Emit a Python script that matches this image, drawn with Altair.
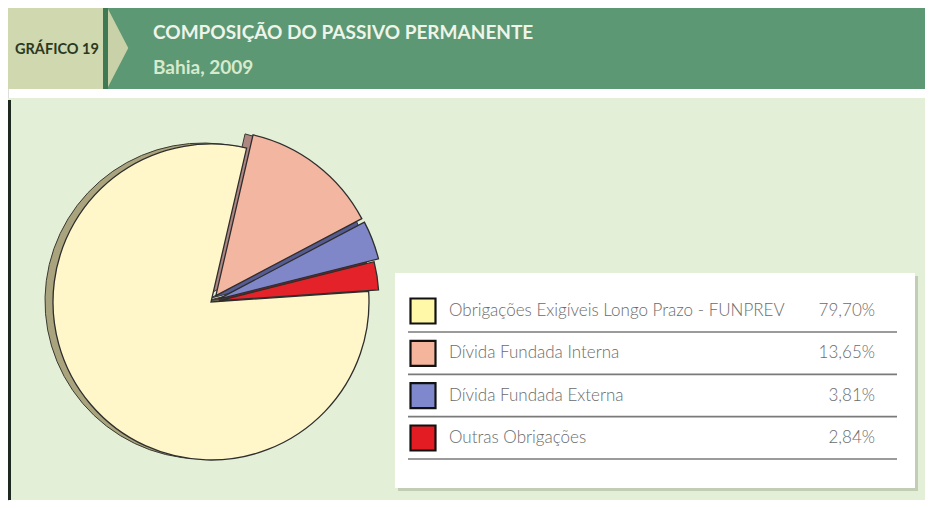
import math
import altair as alt
import pandas as pd

# ---------------- data ----------------
categories = [
    "Obrigações Exigíveis Longo Prazo - FUNPREV",
    "Dívida Fundada Interna",
    "Dívida Fundada Externa",
    "Outras Obrigações",
]
values = [79.70, 13.65, 3.81, 2.84]
value_labels = ["79,70%", "13,65%", "3,81%", "2,84%"]

tag_text = "GRÁFICO 19"
title_text = "COMPOSIÇÃO DO PASSIVO PERMANENTE"
subtitle_text = "Bahia, 2009"

# ---------------- styles ----------------
slice_colors = ["#fff7c9", "#f3b6a1", "#7f87c9", "#e42229"]
shadow_colors = ["#a9a47e", "#ad8581", "#565c92", "#8a1f1f"]
legend_colors = ["#fff8a8", "#f5b59d", "#7f88cc", "#e31b22"]

W, H = 917, 493
CX, CY = 203, 294
RADII = [158, 165, 165, 160]
START_DEG = 86.1
EXPLODE = [0, 8, 8, 8]
SHADOW_DX, SHADOW_DY = -8, -1
FONT = "Lato"

df = pd.DataFrame({"cat": categories, "value": values,
                   "label": value_labels, "idx": list(range(len(values)))})
one = pd.DataFrame({"k": [0]})

theta_scale = alt.Scale(
    domain=[0, 100],
    range=[math.radians(START_DEG), math.radians(START_DEG) + 2 * math.pi],
)

pie_base = (
    alt.Chart(df)
    .transform_window(cum="sum(value)", sort=[alt.SortField("idx")])
    .transform_calculate(start="datum.cum - datum.value")
)

# explode offsets per slice (style, derived from angles)
offsets = []
acc = 0.0
for i, v in enumerate(values):
    mid = math.radians(START_DEG + (acc + v / 2) * 3.6)
    acc += v
    offsets.append((EXPLODE[i] * math.sin(mid), -EXPLODE[i] * math.cos(mid)))

pie_enc = dict(
    theta=alt.Theta("start:Q", scale=theta_scale),
    theta2="cum:Q",
    x=alt.value(CX),
    y=alt.value(CY),
)

shadow_layers = []
slice_layers = []
for i in range(len(values)):
    ox, oy = offsets[i]
    shadow_layers.append(
        pie_base.transform_filter(alt.datum.idx == i)
        .mark_arc(radius=RADII[i], fill=shadow_colors[i], stroke="#3b3a30",
                  strokeWidth=1, xOffset=ox + SHADOW_DX, yOffset=oy + SHADOW_DY)
        .encode(**pie_enc)
    )
    slice_layers.append(
        pie_base.transform_filter(alt.datum.idx == i)
        .mark_arc(radius=RADII[i], fill=slice_colors[i], stroke="#2e2e2e",
                  strokeWidth=1.3, xOffset=ox, yOffset=oy)
        .encode(**pie_enc)
    )

# ---------------- background / header ----------------
def box(x, x2, y, y2, color, **kw):
    return alt.Chart(one).mark_rect(fill=color, **kw).encode(
        x=alt.value(x), x2=alt.value(x2), y=alt.value(y), y2=alt.value(y2))

panel = box(0, W, 90, 492, "#e3efd7")
left_bar = box(0, 3, 92, 492, "#1e2a1f")
olive = box(0, 95, -1, 81, "#cfd8ae")
strip = box(95, 100, -1, 81, "#3f7a55")
green = box(100, W, -1, 81, "#5c9873")

chevron = alt.Chart(one).mark_point(
    shape="M0,-1L0.52,0L0,1Z", filled=True, fill="#c9d1a9", opacity=1,
    size=(2 * 39) ** 2, strokeWidth=0,
).encode(x=alt.value(100), y=alt.value(40))

tag = alt.Chart(one).mark_text(
    text=tag_text, align="left", baseline="middle", font=FONT,
    fontWeight="bold", fontSize=14.5, color="#2c3822",
).encode(x=alt.value(7), y=alt.value(42))

title = alt.Chart(one).mark_text(
    text=title_text, align="left", baseline="middle", font=FONT,
    fontWeight="bold", fontSize=19, color="#eef4ea",
).encode(x=alt.value(145), y=alt.value(25))

subtitle = alt.Chart(one).mark_text(
    text=subtitle_text, align="left", baseline="middle", font=FONT,
    fontWeight="bold", fontSize=19, color="#d6ebcd",
).encode(x=alt.value(145), y=alt.value(60))

# ---------------- legend box ----------------
legend_shadow = box(390, 910, 268, 483, "#b9c4ae", opacity=0.8)
legend_bg = box(387, 907, 265, 480, "#ffffff")

ypos = alt.Y("cat:N", scale=alt.Scale(type="point", domain=categories,
                                        range=[303, 430], padding=0), axis=None)

leg_sq = alt.Chart(df).mark_square(
    size=25 * 25, stroke="#111111", strokeWidth=2.2, opacity=1,
).encode(
    x=alt.value(415), y=ypos,
    fill=alt.Fill("cat:N", scale=alt.Scale(domain=categories, range=legend_colors),
                  legend=None),
)

leg_rule = alt.Chart(df).mark_rule(
    color="#7a7a7a", strokeWidth=1.6, yOffset=21,
).encode(x=alt.value(400), x2=alt.value(889), y=ypos)

leg_txt = alt.Chart(df).mark_text(
    align="left", baseline="middle", font=FONT, fontWeight=300,
    fontSize=17, color="#6b6b6b",
).encode(x=alt.value(441), y=ypos, text="cat:N")

leg_val = alt.Chart(df).mark_text(
    align="right", baseline="middle", font=FONT, fontWeight=300,
    fontSize=17, color="#6b6b6b",
).encode(x=alt.value(867), y=ypos, text="label:N")

chart = alt.layer(
    panel, left_bar, olive, strip, green, chevron, tag, title, subtitle,
    *shadow_layers, *slice_layers,
    legend_shadow, legend_bg, leg_sq, leg_rule, leg_txt, leg_val,
).properties(
    width=W, height=H, autosize=alt.AutoSizeParams(type="none"), padding=0,
).configure_view(stroke=None).configure(background="#ffffff")

chart.save("out.html", embed_options={"renderer": "svg", "actions": False})
